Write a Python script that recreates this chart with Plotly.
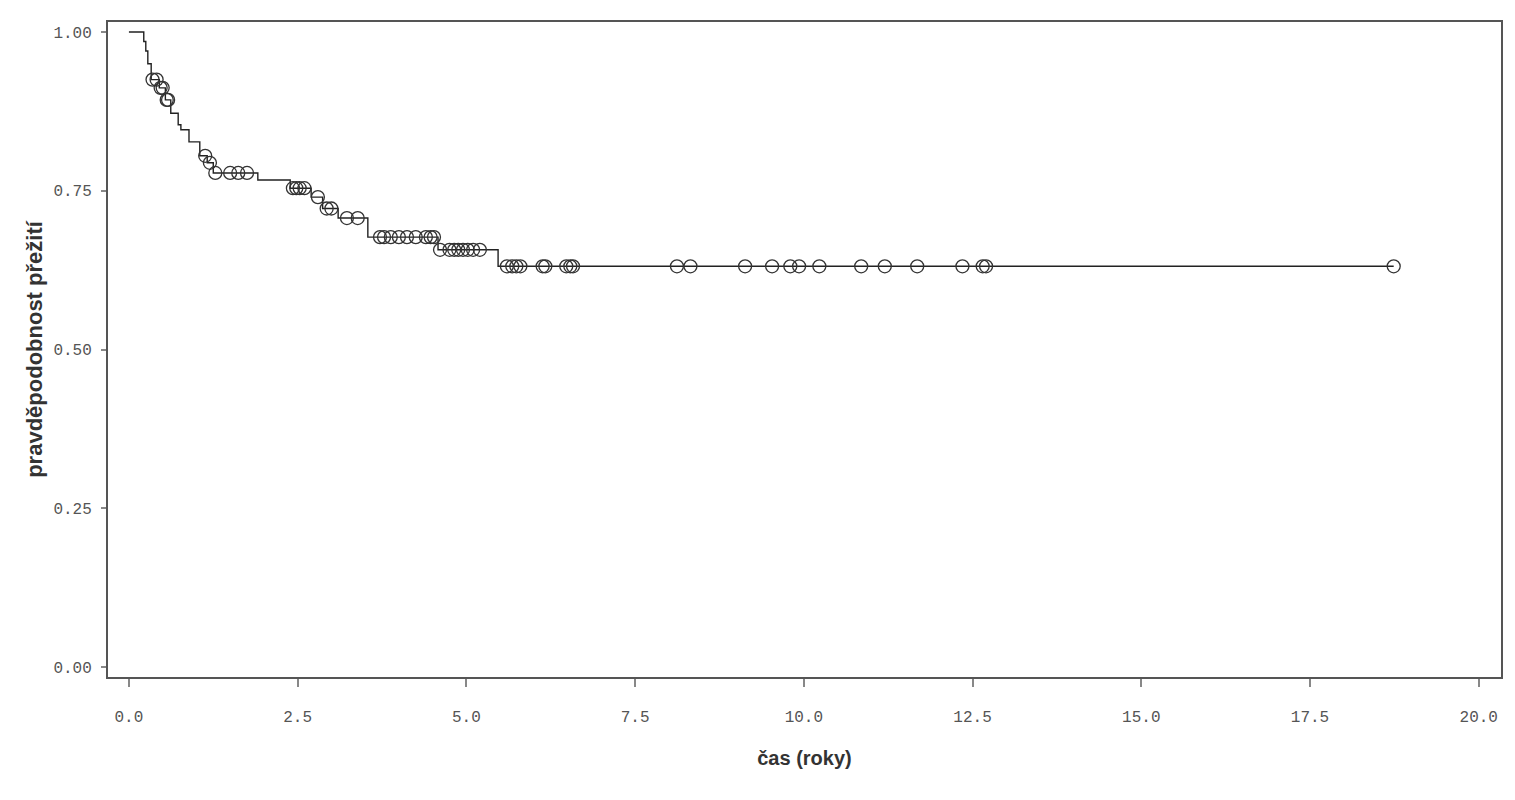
import numpy as np
import plotly.graph_objects as go

# Kaplan-Meier křivka: časy událostí (roky) a pravděpodobnost přežití po nich
event_times = [0.0, 0.22, 0.25, 0.28, 0.33, 0.45, 0.54, 0.62, 0.73, 0.77, 0.89,
               1.05, 1.16, 1.25, 1.91, 2.39, 2.70, 2.87, 3.10, 3.54, 4.58, 5.47]
event_surv = [1.0, 0.985, 0.97, 0.95, 0.925, 0.912, 0.893, 0.872, 0.854, 0.846, 0.827,
              0.805, 0.794, 0.778, 0.767, 0.754, 0.740, 0.722, 0.707, 0.677, 0.657, 0.631]

# cenzorovaná pozorování
censor_times = [0.35, 0.41, 0.47, 0.50, 0.56, 0.58, 1.13, 1.20, 1.28, 1.50, 1.62, 1.75,
                2.43, 2.48, 2.53, 2.60, 2.80, 2.93, 3.00, 3.23, 3.39,
                3.72, 3.78, 3.88, 4.00, 4.12, 4.25, 4.40, 4.47, 4.52,
                4.61, 4.75, 4.82, 4.88, 4.95, 5.02, 5.10, 5.20,
                5.60, 5.68, 5.74, 5.80, 6.13, 6.17, 6.48, 6.54, 6.58,
                8.12, 8.32, 9.13, 9.53, 9.80, 9.93, 10.23, 10.85, 11.20, 11.68,
                12.35, 12.65, 12.70, 18.74]

x_ticks = [0, 2.5, 5, 7.5, 10, 12.5, 15, 17.5, 20]
y_ticks = [0, 0.25, 0.5, 0.75, 1.0]

# hodnota křivky v čase cenzury
idx = np.searchsorted(event_times, censor_times, side='right') - 1
censor_surv = [event_surv[i] for i in idx]

# schod až do posledního pozorování
line_x = event_times + [censor_times[-1]]
line_y = event_surv + [event_surv[-1]]

fig = go.Figure()
fig.add_trace(go.Scatter(
    x=line_x, y=line_y, mode='lines', line_shape='hv',
    line=dict(color='#222222', width=1.4), hoverinfo='skip'
))
fig.add_trace(go.Scatter(
    x=censor_times, y=censor_surv, mode='markers',
    marker=dict(symbol='circle-open', size=13, color='#333333', line=dict(width=1.3))
))

tickfont = dict(family='Liberation Mono', size=16, color='#555555')

fig.update_layout(
    width=1515, height=800,
    margin=dict(l=100, r=22, t=14, b=131),
    paper_bgcolor='white', plot_bgcolor='white',
    showlegend=False,
    xaxis=dict(
        range=[-0.31, 20.33], tickvals=x_ticks, tickformat='.1f',
        showgrid=False, zeroline=False,
        showline=True, mirror=True, linecolor='#555555', linewidth=2,
        ticks='outside', ticklen=8, tickcolor='#888888', tickwidth=2,
        tickfont=tickfont, ticklabelstandoff=16,
        title=dict(text='čas (roky)',
                   font=dict(family='Liberation Sans', size=20, color='#333333', weight='bold'),
                   standoff=25),
    ),
    yaxis=dict(
        range=[-0.0157, 1.0157], tickvals=y_ticks, tickformat='.2f',
        showgrid=False, zeroline=False,
        showline=True, mirror=True, linecolor='#555555', linewidth=2,
        ticks='outside', ticklen=5, tickcolor='#888888', tickwidth=2,
        tickfont=tickfont, ticklabelstandoff=6,
        title=dict(text='pravděpodobnost přežití',
                   font=dict(family='Liberation Sans', size=22, color='#333333', weight='bold'),
                   standoff=5),
    ),
)

fig.write_html("out.html")
